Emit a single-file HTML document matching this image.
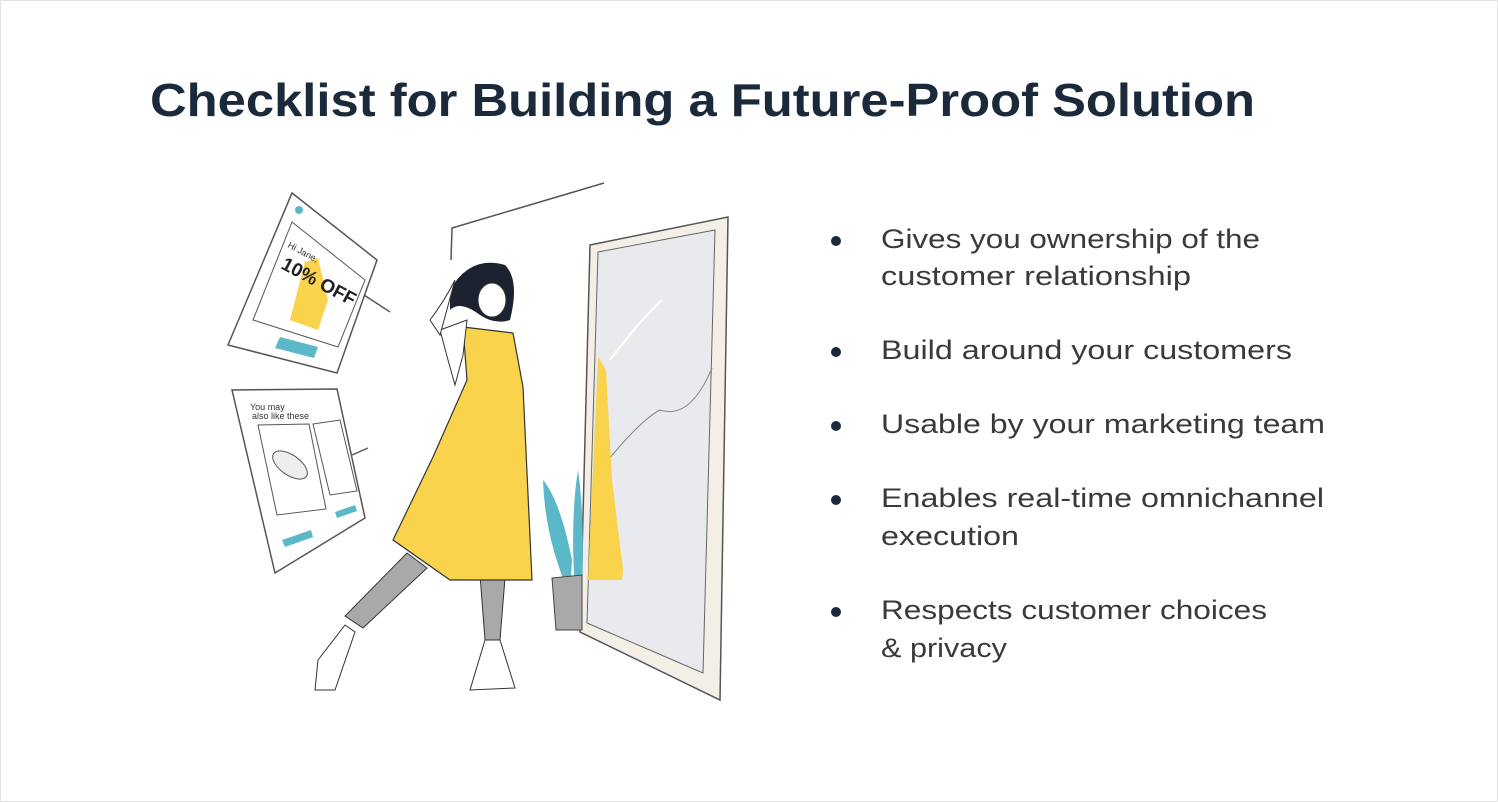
<!DOCTYPE html>
<html><head><meta charset="utf-8"><style>
html,body{margin:0;padding:0;background:#fff;}
svg{display:block}
text{font-family:"Liberation Sans",sans-serif}
</style></head><body>
<svg width="1498" height="802" viewBox="0 0 1498 802" xmlns="http://www.w3.org/2000/svg">
<rect x="0.5" y="0.5" width="1497" height="801" fill="#fff" stroke="#e2e2e2"/>
<text x="150" y="116" font-size="46" font-weight="bold" fill="#1b2a3a" textLength="1105" lengthAdjust="spacingAndGlyphs">Checklist for Building a Future-Proof Solution</text>
<g fill="#3a3a3a" font-size="27">
<circle cx="836" cy="241" r="5" fill="#1b2a3a"/>
<text x="881" y="248" textLength="379" lengthAdjust="spacingAndGlyphs">Gives you ownership of the</text>
<text x="881" y="285" textLength="310" lengthAdjust="spacingAndGlyphs">customer relationship</text>
<circle cx="836" cy="352" r="5" fill="#1b2a3a"/>
<text x="881" y="359" textLength="411" lengthAdjust="spacingAndGlyphs">Build around your customers</text>
<circle cx="836" cy="426" r="5" fill="#1b2a3a"/>
<text x="881" y="433" textLength="444" lengthAdjust="spacingAndGlyphs">Usable by your marketing team</text>
<circle cx="836" cy="500" r="5" fill="#1b2a3a"/>
<text x="881" y="507" textLength="443" lengthAdjust="spacingAndGlyphs">Enables real-time omnichannel</text>
<text x="881" y="545" textLength="138" lengthAdjust="spacingAndGlyphs">execution</text>
<circle cx="836" cy="612" r="5" fill="#1b2a3a"/>
<text x="881" y="619" textLength="386" lengthAdjust="spacingAndGlyphs">Respects customer choices</text>
<text x="881" y="657" textLength="126" lengthAdjust="spacingAndGlyphs">&amp; privacy</text>
</g>
<g stroke="#555" stroke-width="1.5" fill="none">
<polyline points="451,260 452,228 604,183"/>
<line x1="364" y1="295" x2="390" y2="312"/>
<line x1="352" y1="455" x2="368" y2="448"/>
</g>
<polygon points="590,245 728,217 720,700 580,632" fill="#f3efe6" stroke="#555" stroke-width="1.5"/>
<polygon points="598,252 715,230 703,673 587,623" fill="#e8eaee" stroke="#666" stroke-width="1"/>
<path d="M600,470 Q640,420 660,410 Q690,420 712,368" stroke="#888" fill="none"/>
<path d="M610,360 Q640,320 662,300" stroke="#fff" stroke-width="2" fill="none"/>
<polygon points="598,357 606,370 612,480 623,570 622,580 588,580" fill="#f9d34c"/>
<path d="M570,595 Q545,540 543,480 Q560,500 572,560 Z" fill="#5bb8c9"/>
<path d="M575,590 Q570,520 578,470 Q585,520 582,590 Z" fill="#5bb8c9"/>
<polygon points="552,578 582,575 582,630 556,630" fill="#a9a9a9" stroke="#444"/>
<polygon points="292,193 377,260 337,373 228,345" fill="#fff" stroke="#555" stroke-width="1.5"/>
<polygon points="292,222 365,280 338,347 253,320" fill="#fff" stroke="#555"/>
<circle cx="299" cy="210" r="4" fill="#5bb8c9"/>
<polygon points="305,262 318,258 328,300 318,330 290,320" fill="#f9d34c"/>
<text x="287" y="247" font-size="9" fill="#333" transform="rotate(28 287 247)">Hi Jane,</text>
<text x="280" y="268" font-size="19" font-weight="bold" fill="#222" transform="rotate(28 280 268)">10% OFF</text>
<polygon points="280,337 318,347 314,358 275,348" fill="#5bb8c9"/>
<polygon points="232,390 337,389 365,518 275,573" fill="#fff" stroke="#555" stroke-width="1.5"/>
<text x="250" y="410" font-size="9" fill="#333">You may</text>
<text x="252" y="419" font-size="9" fill="#333">also like these</text>
<polygon points="258,425 309,424 326,509 277,515" fill="#fff" stroke="#555"/>
<polygon points="313,424 340,420 357,491 330,495" fill="#fff" stroke="#555"/>
<ellipse cx="290" cy="465" rx="20" ry="10" fill="#eee" stroke="#555" transform="rotate(35 290 465)"/>
<polygon points="282,540 311,530 313,537 285,547" fill="#5bb8c9"/>
<polygon points="335,512 355,505 357,511 337,518" fill="#5bb8c9"/>
<polygon points="407,553 427,568 363,628 345,616" fill="#a9a9a9" stroke="#333"/>
<polygon points="480,575 505,578 500,640 485,640" fill="#a9a9a9" stroke="#333"/>
<polygon points="463,327 513,333 523,387 532,580 450,580 393,540 433,457 467,380" fill="#f9d34c" stroke="#333" stroke-width="1.2"/>
<polygon points="440,330 467,320 463,355 455,385 448,360" fill="#fff" stroke="#333"/>
<path d="M450,290 Q470,255 505,265 Q520,280 510,320 Q495,325 480,315 Q460,300 450,310 Z" fill="#1c2230"/>
<ellipse cx="492" cy="300" rx="14" ry="17" fill="#fff" stroke="#333"/>
<path d="M455,280 Q445,300 430,320 L440,335 Z" fill="#fff" stroke="#333"/>
<path d="M318,660 L345,625 L355,632 L335,690 L315,690 Z" fill="#fff" stroke="#333"/>
<path d="M485,640 L500,640 L515,688 L470,690 Z" fill="#fff" stroke="#333"/>
</svg>
</body></html>
